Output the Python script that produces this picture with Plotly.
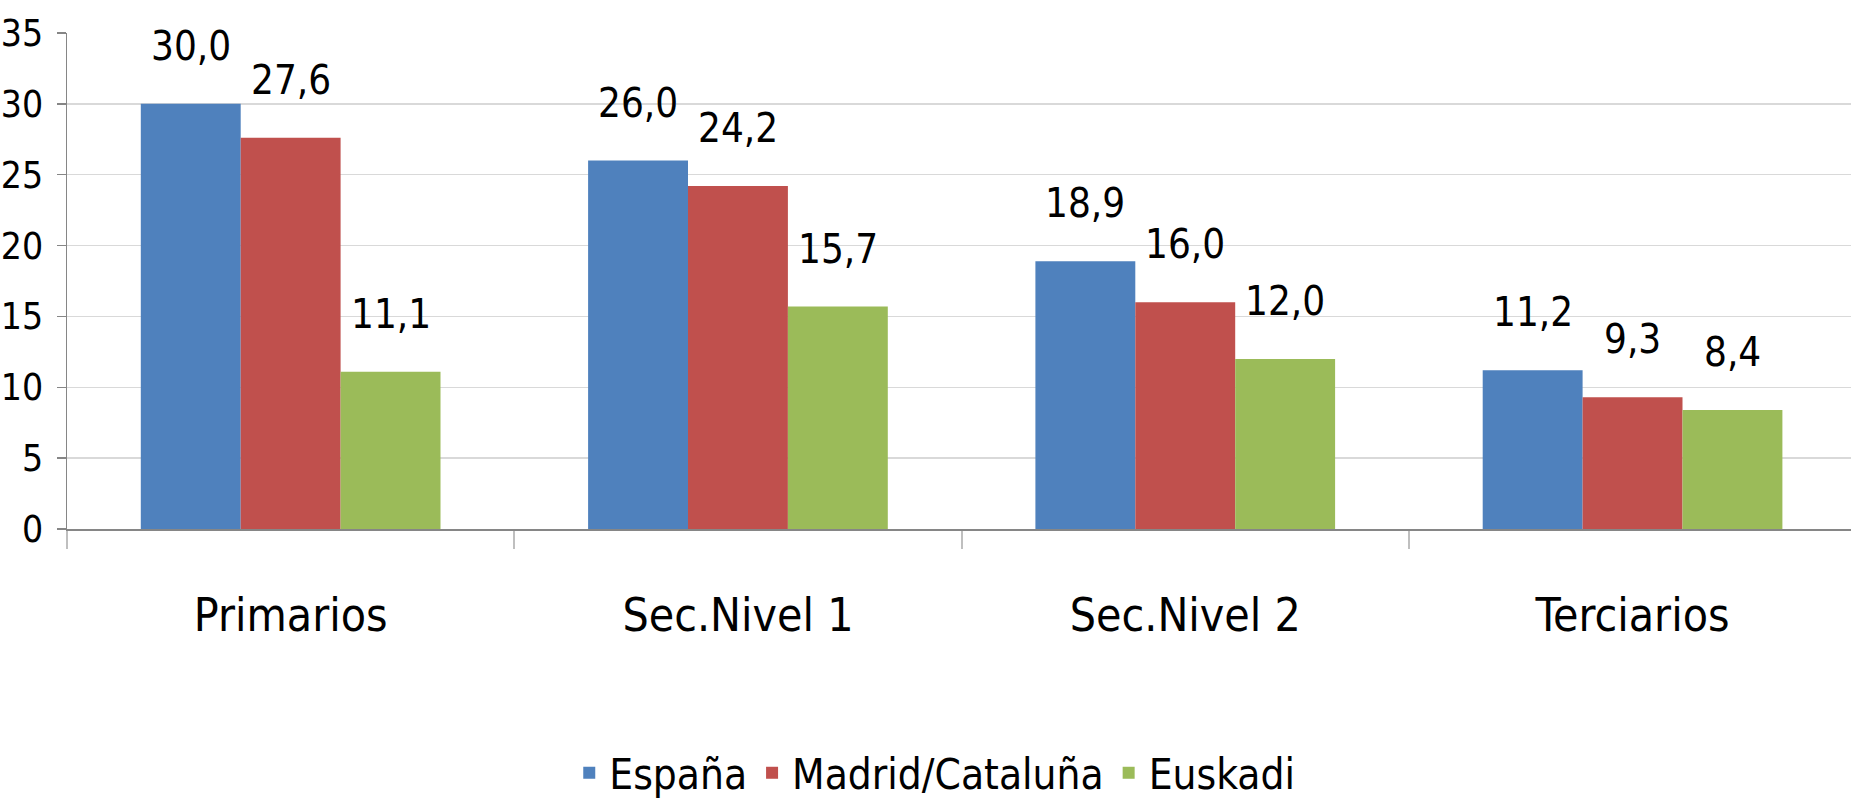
import plotly.graph_objects as go

categories = ["Primarios", "Sec.Nivel 1", "Sec.Nivel 2", "Terciarios"]
series_names = ["España", "Madrid/Cataluña", "Euskadi"]
espana = [30.0, 26.0, 18.9, 11.2]
madrid_cataluna = [27.6, 24.2, 16.0, 9.3]
euskadi = [11.1, 15.7, 12.0, 8.4]
colors = ["#4F81BD", "#C0504D", "#9BBB59"]
y_ticks = [0, 5, 10, 15, 20, 25, 30, 35]

FONT = "Liberation Sans Narrow, Arial Narrow, DejaVu Sans Condensed, sans-serif"

all_series = [espana, madrid_cataluna, euskadi]

fig = go.Figure()
for name, vals, col in zip(series_names, all_series, colors):
    fig.add_trace(go.Bar(name=name, x=categories, y=vals, marker=dict(color=col, line=dict(width=0))))

W, H = 1851, 801
left, top, bottom_px = 67, 33, 529
plot_w = W - left
cat_w = 447.3
bar_px = 100

annotations = []
for i, vals in enumerate(all_series):
    for c, v in zip(categories, vals):
        annotations.append(dict(
            x=c, y=v, xref="x", yref="y",
            text=f"{v:.1f}".replace(".", ","),
            showarrow=False, yanchor="bottom", xanchor="center",
            xshift=(i - 1) * bar_px, yshift=33,
            font=dict(family=FONT, size=40, color="black"),
        ))

fig.update_layout(
    template="none",
    width=W, height=H,
    margin=dict(l=left, r=0, t=top, b=H - bottom_px, pad=0, autoexpand=False),
    paper_bgcolor="white", plot_bgcolor="white",
    barmode="group", bargap=0.33, bargroupgap=0,
    font=dict(family=FONT, color="black"),
    annotations=annotations,
    showlegend=True,
    legend=dict(
        orientation="h", xref="container", yref="container",
        x=0.505, y=0.035, xanchor="center", yanchor="middle",
        font=dict(family=FONT, size=42, color="black"),
        itemwidth=30, tracegroupgap=0, bgcolor="rgba(0,0,0,0)",
    ),
    xaxis=dict(
        automargin=False,
        range=[-0.5, -0.5 + plot_w / cat_w],
        showgrid=False, showline=True, linecolor="#868686", linewidth=1.5,
        ticks="outside", tickson="boundaries", ticklen=18, tickcolor="#BFBFBF", tickwidth=2,
        tickfont=dict(family=FONT, size=46, color="black"),
        ticklabelstandoff=45,
        fixedrange=True,
    ),
    yaxis=dict(
        automargin=False,
        range=[0, 35], tickvals=y_ticks,
        showgrid=True, gridcolor="#D9D9D9", gridwidth=1.5,
        showline=True, linecolor="#868686", linewidth=1.5,
        zeroline=False,
        ticks="outside", ticklen=9, tickcolor="#868686", tickwidth=1.5,
        tickfont=dict(family=FONT, size=37, color="black"),
        ticklabelstandoff=6,
        fixedrange=True,
    ),
)

fig.write_html(
    "out.html",
    config={"displayModeBar": False, "staticPlot": True},
    post_script="document.body.style.margin='0';document.body.style.overflow='hidden';",
)
